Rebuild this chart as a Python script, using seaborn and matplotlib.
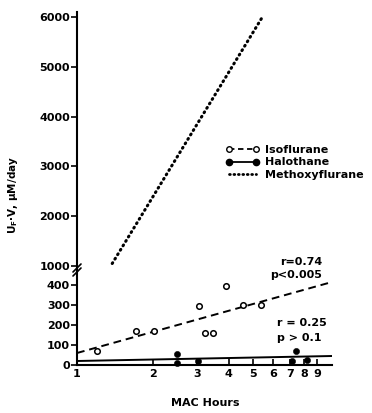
import numpy as np
import pandas as pd
import matplotlib
matplotlib.use("Agg")
import matplotlib.pyplot as plt
import seaborn as sns
from matplotlib.lines import Line2D

# ---- data ----
iso_x = [1.20, 1.71, 2.02, 3.05, 3.22, 3.47, 3.90, 4.56, 5.37]
iso_y = [70, 170, 170, 295, 160, 160, 395, 300, 300]
hal_x = [2.49, 2.50, 3.02, 7.13, 7.40, 8.18]
hal_y = [55, 10, 20, 20, 70, 25]
iso_fit_x = [1.0, 10.3]
iso_fit_y = [60, 415]
hal_fit_x = [1.0, 10.3]
hal_fit_y = [20, 45]
mxf_x = [1.38, 5.45]
mxf_y = [1050, 6000]
x_ticks = [1, 2, 3, 4, 5, 6, 7, 8, 9]
y_ticks_low = [0, 100, 200, 300, 400]
y_ticks_up = [1000, 2000, 3000, 4000, 5000, 6000]
series_names = ["Isoflurane", "Halothane", "Methoxyflurane"]

sns.set_style("ticks")
plt.rcParams["font.family"] = ["DejaVu Sans"]
plt.rcParams["font.weight"] = "bold"
for k in ("text.color", "axes.labelcolor", "xtick.color", "ytick.color", "axes.edgecolor"):
    plt.rcParams[k] = "black"

W, H = 372, 413
fig = plt.figure(figsize=(W / 100, H / 100), dpi=100)

def fx(px):
    return px / W

def fy(py):
    return 1 - py / H

left, right = 77, 332
ax_up = fig.add_axes([fx(left), fy(268), fx(right - left), (268 - 12) / H])
ax_lo = fig.add_axes([fx(left), fy(365), fx(right - left), (365 - 272) / H])

for ax in (ax_up, ax_lo):
    ax.set_xscale("log")
    ax.set_xlim(1, 10.3)
    for s in ("top", "right"):
        ax.spines[s].set_visible(False)
    ax.spines["left"].set_linewidth(1.5)
    ax.spines["bottom"].set_linewidth(1.5)
    ax.tick_params(axis="y", direction="out", length=4, width=1.2, labelsize=8, pad=1,
                   colors="black")

ax_up.spines["bottom"].set_visible(False)
ax_up.set_ylim(960, 6100)
ax_up.set_yticks(y_ticks_up)
ax_up.set_yticklabels([str(v) for v in y_ticks_up], fontweight="bold")
ax_up.set_xticks([])
ax_up.minorticks_off()
ax_up.tick_params(axis="x", which="both", bottom=False, labelbottom=False)

ax_lo.set_ylim(0, 465)
ax_lo.set_yticks(y_ticks_low)
ax_lo.set_yticklabels([str(v) for v in y_ticks_low], fontweight="bold")
ax_lo.set_xticks(x_ticks)
ax_lo.set_xticklabels([str(v) for v in x_ticks], fontweight="bold")
ax_lo.xaxis.set_minor_locator(matplotlib.ticker.NullLocator())
ax_lo.tick_params(axis="x", direction="in", length=4, width=1.2, labelsize=8, pad=3,
                  colors="black")

# methoxyflurane dotted line
sns.lineplot(x=mxf_x, y=mxf_y, ax=ax_up, color="black", linewidth=2.2,
             linestyle=(0, (0.3, 1.4)), dash_capstyle="round", legend=False)

# regression lines
sns.lineplot(x=iso_fit_x, y=iso_fit_y, ax=ax_lo, color="black", linewidth=1.4,
             linestyle=(0, (4, 2.5)), legend=False)
sns.lineplot(x=hal_fit_x, y=hal_fit_y, ax=ax_lo, color="black", linewidth=1.4,
             legend=False)

# points
sns.scatterplot(x=iso_x, y=iso_y, ax=ax_lo, marker="o", s=16, facecolor="white",
                edgecolor="black", linewidth=1.1, zorder=5, clip_on=False)
sns.scatterplot(x=hal_x, y=hal_y, ax=ax_lo, marker="o", s=20, color="black",
                edgecolor="black", zorder=5, clip_on=False)

# axis break marks
for dy in (0, 4):
    fig.add_artist(Line2D([fx(73), fx(81)], [fy(276 - dy), fy(268 - dy)],
                          color="black", linewidth=1.2))
fig.add_artist(Line2D([fx(left), fx(left)], [fy(268), fy(272)], color="black", linewidth=1.5))

# legend
handles = [
    Line2D([0], [0], color="black", linestyle=(0, (3, 2)), linewidth=1.3, marker="o",
           markersize=4, markerfacecolor="white", markeredgecolor="black"),
    Line2D([0], [0], color="black", linewidth=1.3, marker="o", markersize=4.5,
           markerfacecolor="black", markeredgecolor="black"),
    Line2D([0], [0], color="black", linewidth=2.0, linestyle=(0, (0.3, 1.3)),
           dash_capstyle="round"),
]
leg = fig.legend(handles, series_names, loc="upper left",
                 bbox_to_anchor=(fx(226), fy(145)), frameon=False, numpoints=2,
                 prop={"size": 8, "weight": "bold"}, handlelength=3.0,
                 handletextpad=0.55, labelspacing=0.22, borderaxespad=0, borderpad=0)

# annotations
fig.text(fx(322), fy(262), "r=0.74", ha="right", va="center", fontsize=8, fontweight="bold")
fig.text(fx(322), fy(275), "p<0.005", ha="right", va="center", fontsize=8, fontweight="bold")
fig.text(fx(277), fy(323), "r = 0.25", ha="left", va="center", fontsize=8, fontweight="bold")
fig.text(fx(277), fy(338), "p > 0.1", ha="left", va="center", fontsize=8, fontweight="bold")

# axis labels
fig.text(fx(13), fy(195), r"U$_\mathbf{F}$·V, μM/day", rotation=90, ha="center",
         va="center", fontsize=7.5, fontweight="bold")
fig.text(fx(205), fy(403), "MAC Hours", ha="center", va="center", fontsize=8,
         fontweight="bold")

fig.savefig("out.png", dpi=100)
